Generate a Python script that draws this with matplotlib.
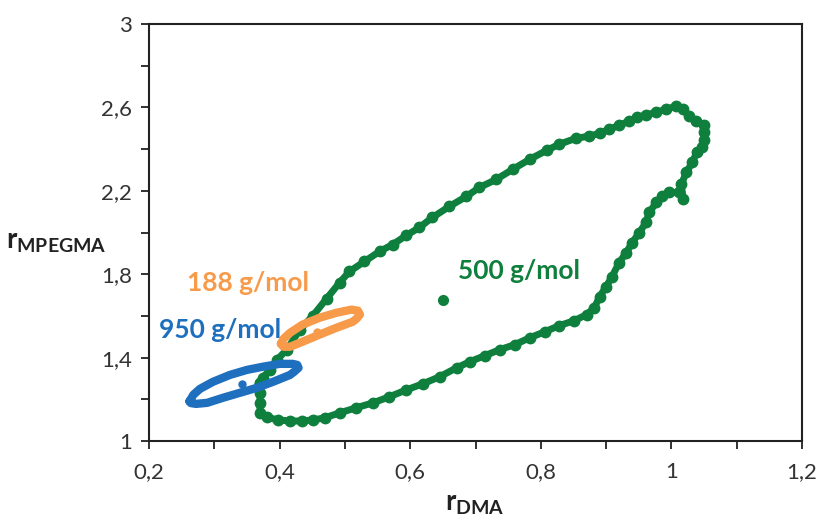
import numpy as np
import matplotlib.pyplot as plt

plt.rcParams['font.family'] = ['Lato', 'DejaVu Sans']
plt.rcParams['mathtext.fontset'] = 'custom'
plt.rcParams['mathtext.rm'] = 'Lato'
plt.rcParams['mathtext.bf'] = 'Lato:bold'

# 500 g/mol joint confidence region (closed loop)
green_x = [0.370, 0.370, 0.370, 0.370, 0.380, 0.397, 0.416, 0.434, 0.451, 0.469,
           0.492, 0.517, 0.543, 0.568, 0.594, 0.619, 0.645, 0.671, 0.691, 0.714,
           0.737, 0.760, 0.783, 0.806, 0.828, 0.851, 0.870, 0.882, 0.890, 0.900,
           0.909, 0.920, 0.931, 0.940, 0.951, 0.961, 0.966, 0.977, 0.986, 0.997,
           1.012, 1.018, 1.015, 1.023, 1.032, 1.039, 1.047, 1.050, 1.050, 1.050,
           1.038, 1.027, 1.017, 1.007, 0.992, 0.977, 0.961, 0.948, 0.935, 0.920,
           0.905, 0.890, 0.874, 0.854, 0.828, 0.809, 0.783, 0.757, 0.732, 0.706,
           0.686, 0.660, 0.634, 0.614, 0.594, 0.573, 0.553, 0.530, 0.507, 0.492,
           0.472, 0.451, 0.431, 0.411, 0.396, 0.385, 0.374, 0.370]
green_y = [1.279, 1.231, 1.183, 1.135, 1.115, 1.101, 1.096, 1.096, 1.101, 1.111,
           1.135, 1.159, 1.183, 1.212, 1.245, 1.274, 1.308, 1.351, 1.380, 1.409,
           1.438, 1.462, 1.495, 1.524, 1.553, 1.577, 1.606, 1.639, 1.692, 1.740,
           1.788, 1.856, 1.904, 1.952, 2.000, 2.048, 2.096, 2.144, 2.173, 2.192,
           2.192, 2.163, 2.231, 2.288, 2.337, 2.385, 2.410, 2.445, 2.480, 2.515,
           2.534, 2.558, 2.591, 2.606, 2.591, 2.577, 2.563, 2.553, 2.534, 2.514,
           2.495, 2.476, 2.462, 2.452, 2.423, 2.394, 2.351, 2.303, 2.255, 2.216,
           2.173, 2.125, 2.072, 2.024, 1.986, 1.942, 1.909, 1.861, 1.813, 1.760,
           1.683, 1.601, 1.534, 1.438, 1.389, 1.341, 1.303, 1.279]

# 950 g/mol region
blue_x = [0.262, 0.268, 0.278, 0.298, 0.324, 0.350, 0.374, 0.400, 0.420, 0.427,
          0.429, 0.423, 0.416, 0.390, 0.365, 0.339, 0.313, 0.289, 0.272, 0.264,
          0.262]
blue_y = [1.190, 1.222, 1.250, 1.284, 1.317, 1.341, 1.356, 1.370, 1.370, 1.365,
          1.351, 1.334, 1.317, 1.284, 1.255, 1.231, 1.207, 1.183, 1.178, 1.182,
          1.190]

# 188 g/mol region
orange_x = [0.402, 0.406, 0.416, 0.435, 0.461, 0.487, 0.510, 0.520, 0.523, 0.518,
            0.512, 0.487, 0.461, 0.435, 0.416, 0.406, 0.402]
orange_y = [1.466, 1.490, 1.519, 1.558, 1.591, 1.615, 1.630, 1.625, 1.606, 1.587,
            1.572, 1.543, 1.510, 1.476, 1.452, 1.452, 1.466]

# point estimates
centers = {"500 g/mol": (0.650, 1.678), "950 g/mol": (0.342, 1.274), "188 g/mol": (0.457, 1.524)}

green = '#0E7F3C'
blue = '#1F6FBF'
orange = '#F79A4A'

fig = plt.figure(figsize=(8.21, 5.20), dpi=100)
ax = fig.add_axes([149/821, 1-441/520, (802-149)/821, (441-24)/520])

ax.plot(green_x, green_y, '-o', color=green, lw=5, ms=7.5, solid_joinstyle='round')
ax.plot(blue_x, blue_y, '-', color=blue, lw=6, solid_joinstyle='round', solid_capstyle='round')
ax.plot(orange_x, orange_y, '-', color=orange, lw=6, solid_joinstyle='round', solid_capstyle='round')

ax.plot(*centers["500 g/mol"], 'o', color=green, ms=7)
ax.plot(*centers["950 g/mol"], 'o', color=blue, ms=5)
ax.plot(*centers["188 g/mol"], 'o', color=orange, ms=5)

ax.text(0.351, 1.760, "188 g/mol", color=orange, fontsize=19, fontweight='bold', ha='center', va='center')
ax.text(0.309, 1.534, "950 g/mol", color=blue, fontsize=19, fontweight='bold', ha='center', va='center')
ax.text(0.767, 1.813, "500 g/mol", color=green, fontsize=19, fontweight='bold', ha='center', va='center')

ax.set_xlim(0.2, 1.2)
ax.set_ylim(1, 3)
xt = [0.2, 0.4, 0.6, 0.8, 1.0, 1.2]
yt = [1.0, 1.4, 1.8, 2.2, 2.6, 3.0]
ax.set_xticks(xt)
ax.set_xticklabels(['0,2', '0,4', '0,6', '0,8', '1', '1,2'])
ax.set_yticks(yt)
ax.set_yticklabels(['1', '1,4', '1,8', '2,2', '2,6', '3'])
ax.set_xticks(np.arange(0.3, 1.2, 0.2), minor=True)
ax.set_yticks(np.arange(1.2, 3.0, 0.4), minor=True)
ax.tick_params(which='both', direction='out', length=6, width=1.3, colors='#222222',
               labelsize=16, labelcolor='#333333')
ax.tick_params(axis='x', pad=9)
ax.tick_params(axis='y', pad=6)
for s in ax.spines.values():
    s.set_linewidth(1.5)
    s.set_color('#222222')

fig.text(475/821, 1-504/520, r'$\mathbf{r}_{\mathbf{DMA}}$', fontsize=20, ha='center', va='center', color='#222222')
fig.text(56/821, 1-242/520, r'$\mathbf{r}_{\mathbf{MPEGMA}}$', fontsize=20, ha='center', va='center', color='#222222')

fig.savefig('out.png', dpi=100)
